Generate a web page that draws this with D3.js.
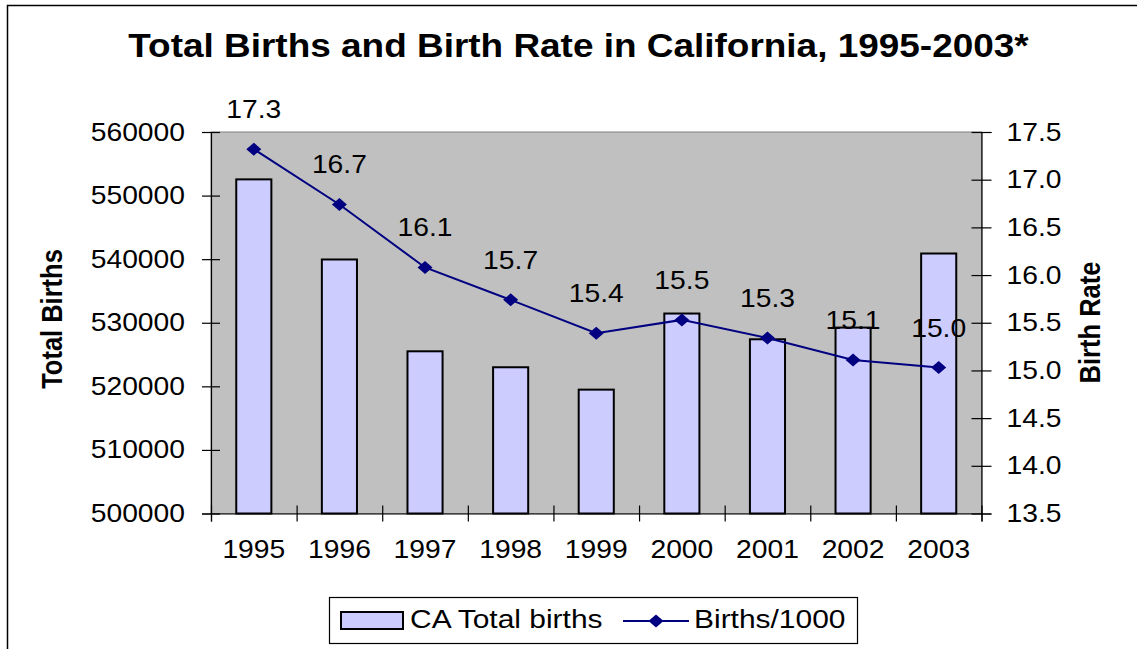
<!DOCTYPE html>
<html>
<head>
<meta charset="utf-8">
<script src="https://cdn.jsdelivr.net/npm/d3@7"></script>
<style>
  body { margin: 0; background: #fff; }
  text { font-family: "Liberation Sans", Arial, sans-serif; fill: #000; }
</style>
</head>
<body>
<div id="chart"></div>
<script>
// ---- data ----
var years = ["1995", "1996", "1997", "1998", "1999", "2000", "2001", "2002", "2003"];
var totalBirths = [552550, 539950, 525510, 523000, 519480, 531450, 527400, 529240, 540890];
var birthRate = [17.32, 16.74, 16.08, 15.74, 15.39, 15.53, 15.34, 15.11, 15.03];
var leftTicks = [500000, 510000, 520000, 530000, 540000, 550000, 560000];
var rightTicks = [13.5, 14.0, 14.5, 15.0, 15.5, 16.0, 16.5, 17.0, 17.5];

// ---- layout ----
var width = 1137, height = 649;
var plot = { left: 211, right: 981.5, top: 132, bottom: 513.5 };
var stretch = 1.13; // the original is a bit wider than tall

var svg = d3.select("#chart").append("svg")
  .attr("width", width)
  .attr("height", height);

// outer frame (only top and left show)
svg.append("path")
  .attr("d", "M7.5,649 L7.5,5.5 L1137,5.5")
  .attr("fill", "none")
  .attr("stroke", "#000")
  .attr("stroke-width", 1.5);

// scales
var x = d3.scaleBand()
  .domain(years)
  .range([plot.left, plot.right])
  .paddingInner(0.59)
  .paddingOuter(0.295);

var xEdges = d3.scaleLinear().domain([0, years.length]).range([plot.left, plot.right]);

var yLeft = d3.scaleLinear().domain([500000, 560000]).range([plot.bottom, plot.top]);
var yRight = d3.scaleLinear().domain([13.5, 17.5]).range([plot.bottom, plot.top]);

// plot background
svg.append("rect")
  .attr("x", plot.left)
  .attr("y", plot.top)
  .attr("width", plot.right - plot.left)
  .attr("height", plot.bottom - plot.top)
  .attr("fill", "#c0c0c0")
  .attr("stroke", "#808080")
  .attr("stroke-width", 1);

// bars
svg.append("g").selectAll("rect")
  .data(years)
  .join("rect")
  .attr("x", function(d) { return x(d); })
  .attr("width", x.bandwidth())
  .attr("y", function(d, i) { return yLeft(totalBirths[i]); })
  .attr("height", function(d, i) { return plot.bottom - yLeft(totalBirths[i]); })
  .attr("fill", "#ccccff")
  .attr("stroke", "#000")
  .attr("stroke-width", 2);

// axes
function crossTicks(g, size, dir) {
  g.selectAll(".tick line").attr(dir, size);
}

var leftAxis = svg.append("g")
  .attr("transform", "translate(" + plot.left + ",0)")
  .call(d3.axisLeft(yLeft).tickValues(leftTicks).tickFormat(d3.format("d"))
    .tickSize(9).tickPadding(17));
crossTicks(leftAxis, 9, "x1");

var rightAxis = svg.append("g")
  .attr("transform", "translate(" + plot.right + ",0)")
  .call(d3.axisRight(yRight).tickValues(rightTicks).tickFormat(d3.format(".1f"))
    .tickSize(10).tickPadding(15));
crossTicks(rightAxis, -10, "x1");

var bottomTicks = svg.append("g")
  .attr("transform", "translate(0," + plot.bottom + ")")
  .call(d3.axisBottom(xEdges).tickValues(d3.range(years.length + 1)).tickFormat("").tickSize(8));
crossTicks(bottomTicks, -8, "y1");

var bottomLabels = svg.append("g")
  .attr("transform", "translate(0," + plot.bottom + ")")
  .call(d3.axisBottom(x).tickSize(0).tickPadding(27));

[leftAxis, rightAxis, bottomTicks, bottomLabels].forEach(function(g) {
  g.select(".domain").attr("stroke", "#000").attr("stroke-width", 1.2);
  g.selectAll(".tick line").attr("stroke", "#000").attr("stroke-width", 1.2);
  g.selectAll("text").attr("font-size", 25).attr("font-family", null);
});
bottomLabels.select(".domain").remove();

// birth rate line
var diamond = "M0,-6.5L7.5,0L0,6.5L-7.5,0Z";
var cx = function(d, i) { return x(years[i]) + x.bandwidth() / 2; };

svg.append("path")
  .datum(birthRate)
  .attr("fill", "none")
  .attr("stroke", "#000080")
  .attr("stroke-width", 2)
  .attr("d", d3.line().x(cx).y(function(d) { return yRight(d); }));

svg.append("g").selectAll("path")
  .data(birthRate)
  .join("path")
  .attr("d", diamond)
  .attr("fill", "#000080")
  .attr("transform", function(d, i) { return "translate(" + cx(d, i) + "," + yRight(d) + ")"; });

// data labels
svg.append("g").selectAll("text")
  .data(birthRate)
  .join("text")
  .attr("x", cx)
  .attr("y", function(d) { return yRight(d) - 31; })
  .attr("text-anchor", "middle")
  .attr("font-size", 25)
  .text(d3.format(".1f"));

// title
svg.append("text")
  .attr("x", 578.5)
  .attr("y", 57)
  .attr("text-anchor", "middle")
  .attr("font-size", 32.7)
  .attr("font-weight", "bold")
  .text("Total Births and Birth Rate in California, 1995-2003*");

// axis titles (rotated)
svg.append("text")
  .attr("transform", "translate(62,319) scale(" + stretch + ",1) rotate(-90)")
  .attr("text-anchor", "middle")
  .attr("font-size", 25.5)
  .attr("font-weight", "bold")
  .attr("class", "norot")
  .text("Total Births");

svg.append("text")
  .attr("transform", "translate(1100,322.5) scale(" + stretch + ",1) rotate(-90)")
  .attr("text-anchor", "middle")
  .attr("font-size", 25.5)
  .attr("font-weight", "bold")
  .attr("class", "norot")
  .text("Birth Rate");

// legend
var legend = svg.append("g");
legend.append("rect")
  .attr("x", 329.5).attr("y", 597.5)
  .attr("width", 528).attr("height", 46)
  .attr("fill", "#fff").attr("stroke", "#000").attr("stroke-width", 1.2);
legend.append("rect")
  .attr("x", 341).attr("y", 612)
  .attr("width", 62).attr("height", 17)
  .attr("fill", "#ccccff").attr("stroke", "#000").attr("stroke-width", 2);
legend.append("text")
  .attr("x", 410).attr("y", 628)
  .attr("font-size", 26.5)
  .text("CA Total births");
legend.append("line")
  .attr("x1", 623).attr("x2", 689).attr("y1", 621).attr("y2", 621)
  .attr("stroke", "#000080").attr("stroke-width", 2);
legend.append("path")
  .attr("d", diamond)
  .attr("fill", "#000080")
  .attr("transform", "translate(656,621)");
legend.append("text")
  .attr("x", 694).attr("y", 628)
  .attr("font-size", 26.5)
  .text("Births/1000");

// widen the horizontal texts to match the stretched original
svg.selectAll("text:not(.norot)").each(function() {
  var w = this.getComputedTextLength();
  if (w > 0) {
    this.setAttribute("textLength", w * stretch);
    this.setAttribute("lengthAdjust", "spacingAndGlyphs");
  }
});
</script>
</body>
</html>
